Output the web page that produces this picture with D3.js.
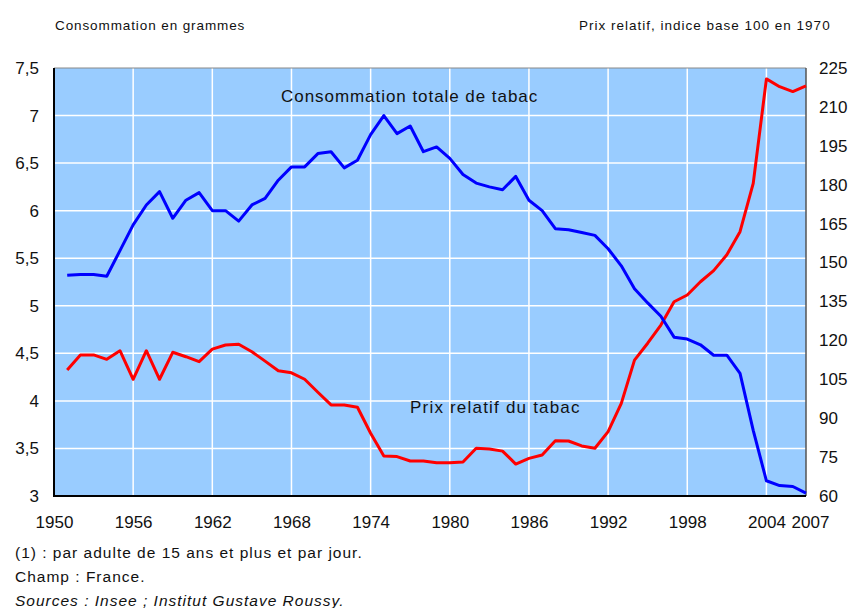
<!DOCTYPE html>
<html>
<head>
<meta charset="utf-8">
<script src="https://cdn.jsdelivr.net/npm/d3@7"></script>
<style>
  body { margin: 0; background: #fff; }
  text { font-family: "Liberation Sans", Arial, sans-serif; fill: #111; }
</style>
</head>
<body>
<div id="chart"></div>
<script>
// annual series, 1951-2007
var years = d3.range(1951, 2008);

// consommation totale de tabac, grammes par adulte et par jour
var consommation = [5.32, 5.33, 5.33, 5.31, 5.58, 5.85, 6.06, 6.20, 5.92, 6.11,
  6.19, 6.00, 6.00, 5.89, 6.06, 6.13, 6.32, 6.46, 6.46, 6.60,
  6.62, 6.45, 6.53, 6.80, 7.00, 6.81, 6.89, 6.62, 6.67, 6.55,
  6.38, 6.29, 6.25, 6.22, 6.36, 6.11, 6.00, 5.81, 5.80, 5.77,
  5.74, 5.60, 5.42, 5.18, 5.03, 4.89, 4.67, 4.65, 4.59, 4.48,
  4.48, 4.29, 3.69, 3.16, 3.11, 3.10, 3.03];

// prix relatif du tabac, base 100 en 1970
var prix = [108.6, 114.4, 114.4, 112.7, 116.0, 105.0, 116.0, 105.0, 115.4, 113.7,
  111.8, 116.6, 118.2, 118.5, 115.6, 112.0, 108.3, 107.5, 105.0, 100.0,
  95.1, 95.1, 94.2, 84.2, 75.4, 75.2, 73.5, 73.5, 72.8, 72.8,
  73.1, 78.4, 78.1, 77.3, 72.3, 74.5, 75.8, 81.3, 81.2, 79.3,
  78.4, 84.8, 95.7, 112.4, 118.9, 125.9, 134.9, 137.5, 142.6, 146.9,
  153.0, 161.9, 180.5, 220.8, 217.8, 215.9, 218.1];

var xTicks = [1950, 1956, 1962, 1968, 1974, 1980, 1986, 1992, 1998, 2004, 2007];
var xGrid = [1956, 1962, 1968, 1974, 1980, 1986, 1992, 1998, 2004];
var yLeftTicks = [3, 3.5, 4, 4.5, 5, 5.5, 6, 6.5, 7, 7.5];
var yRightTicks = d3.range(60, 226, 15);

var notes = [
  {text: "(1) : par adulte de 15 ans et plus et par jour.", italic: false},
  {text: "Champ : France.", italic: false},
  {text: "Sources : Insee ; Institut Gustave Roussy.", italic: true}
];

var W = 851, H = 608;
var m = {left: 54, right: 806, top: 68, bottom: 496};

var svg = d3.select("#chart").append("svg").attr("width", W).attr("height", H);

var x = d3.scaleLinear().domain([1950, 2007]).range([m.left, m.right]);
var yL = d3.scaleLinear().domain([3, 7.5]).range([m.bottom, m.top]);
var yR = d3.scaleLinear().domain([60, 225]).range([m.bottom, m.top]);

var fr = function(v){ return String(v).replace(".", ","); };

// background
svg.append("rect")
  .attr("x", m.left).attr("y", m.top)
  .attr("width", m.right - m.left).attr("height", m.bottom - m.top)
  .attr("fill", "#99ccff");

// grid
svg.append("g").selectAll("line").data(yLeftTicks.slice(1, -1)).enter().append("line")
  .attr("x1", m.left).attr("x2", m.right)
  .attr("y1", d => yL(d)).attr("y2", d => yL(d))
  .attr("stroke", "#fff").attr("stroke-width", 1.5);
svg.append("g").selectAll("line").data(xGrid).enter().append("line")
  .attr("x1", d => x(d)).attr("x2", d => x(d))
  .attr("y1", m.top).attr("y2", m.bottom)
  .attr("stroke", "#fff").attr("stroke-width", 1.5);

// frame
svg.append("line").attr("x1", m.left).attr("x2", m.right).attr("y1", m.top).attr("y2", m.top)
  .attr("stroke", "#888").attr("stroke-width", 1);
svg.append("line").attr("x1", m.right).attr("x2", m.right).attr("y1", m.top).attr("y2", m.bottom)
  .attr("stroke", "#555").attr("stroke-width", 1.5);

// axes
var axL = svg.append("g").attr("transform", "translate(" + m.left + ",0)")
  .call(d3.axisLeft(yL).tickValues(yLeftTicks).tickFormat(fr).tickSize(0).tickPadding(15));
var axR = svg.append("g").attr("transform", "translate(" + m.right + ",0)")
  .call(d3.axisRight(yR).tickValues(yRightTicks).tickSize(0).tickPadding(13));
var axB = svg.append("g").attr("transform", "translate(0," + m.bottom + ")")
  .call(d3.axisBottom(x).tickValues(xTicks).tickFormat(d3.format("d")).tickSize(0).tickPadding(20));
[axL, axR, axB].forEach(function(a){
  a.selectAll("text").attr("font-size", 17).attr("fill", "#111")
    .attr("font-family", "'Liberation Sans', Arial, sans-serif");
  a.select(".domain").remove();
});
// last year label sits a little right of its tick, as in the original
axB.selectAll("text").filter(d => d === 2007).attr("dx", 4);

svg.append("line").attr("x1", m.left).attr("x2", m.left).attr("y1", m.top).attr("y2", m.bottom + 1)
  .attr("stroke", "#000").attr("stroke-width", 2);
svg.append("line").attr("x1", m.left).attr("x2", m.right).attr("y1", m.bottom).attr("y2", m.bottom)
  .attr("stroke", "#000").attr("stroke-width", 2);

// series
var lineL = d3.line().x((d, i) => x(years[i])).y(d => yL(d));
var lineR = d3.line().x((d, i) => x(years[i])).y(d => yR(d));
svg.append("path").datum(prix).attr("d", lineR)
  .attr("fill", "none").attr("stroke", "#ff0000").attr("stroke-width", 3).attr("stroke-linejoin", "round");
svg.append("path").datum(consommation).attr("d", lineL)
  .attr("fill", "none").attr("stroke", "#0000ff").attr("stroke-width", 3).attr("stroke-linejoin", "round");

// labels
svg.append("text").attr("x", 281).attr("y", 102)
  .attr("font-size", 17).attr("letter-spacing", 0.95).text("Consommation totale de tabac");
svg.append("text").attr("x", 410).attr("y", 413)
  .attr("font-size", 17).attr("letter-spacing", 1.2).text("Prix relatif du tabac");

svg.append("text").attr("x", 55).attr("y", 30).attr("font-size", 13.5)
  .attr("letter-spacing", 0.9).text("Consommation en grammes");
svg.append("text").attr("x", 579).attr("y", 30).attr("font-size", 13.5)
  .attr("letter-spacing", 1).text("Prix relatif, indice base 100 en 1970");

svg.append("g").selectAll("text").data(notes).enter().append("text")
  .attr("x", 15).attr("y", (d, i) => 558 + i * 24)
  .attr("font-size", 15.5)
  .attr("letter-spacing", 1)
  .attr("font-style", d => d.italic ? "italic" : "normal")
  .text(d => d.text);
</script>
</body>
</html>
